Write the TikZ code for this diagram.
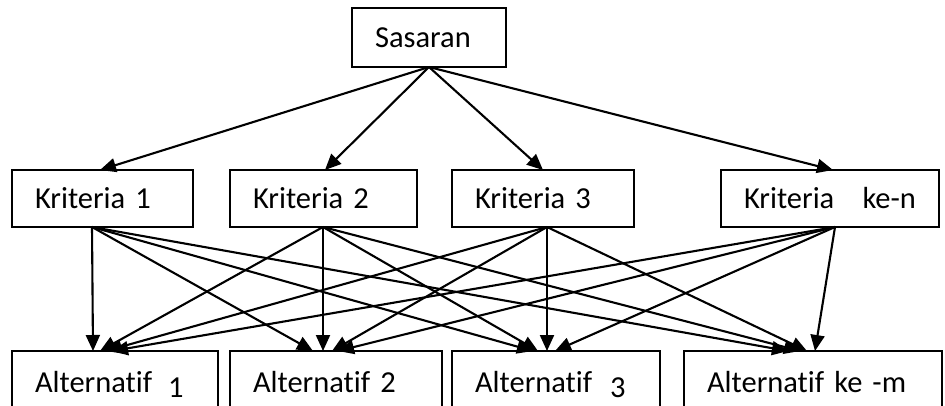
\documentclass[tikz,border=0pt]{standalone}
\usepackage{fontspec}
\setmainfont{Carlito}[Ligatures=CommonOff]
\usetikzlibrary{arrows.meta}
\begin{document}
\begin{tikzpicture}[x=1pt,y=-1pt,
  box/.style={draw, line width=2.2pt, inner xsep=23pt, inner ysep=0pt, outer sep=0pt,
    align=left, anchor=north west, font=\fontsize{30.5}{36}\selectfont},
  link/.style={line width=2.1pt, -{Triangle[length=16pt,width=14pt]}}]
\useasboundingbox (0,0) rectangle (945,405);
\clip (0,0) rectangle (945,405);
\fill[white] (0,0) rectangle (945,405);
% boxes
\node[box, text width=108pt, minimum height=59pt] (sas) at (352,8) {Sasaran};
\node[box, text width=135pt, minimum height=57pt] (k1) at (12,170) {Kriteria 1};
\node[box, text width=141pt, minimum height=57pt] (k2) at (230,170) {Kriteria 2};
\node[box, text width=136pt, minimum height=57pt] (k3) at (452,170) {Kriteria 3};
\node[box, text width=172pt, minimum height=57pt] (kn) at (721,170) {Kriteria\hspace{18pt} ke-n};
\node[box, text width=160pt, minimum height=63pt] (a1) at (12,351) {Alternatif\hspace{16pt}\raisebox{-5pt}[0pt][0pt]{1}};
\node[box, text width=166pt, minimum height=63pt] (a2) at (230,351) {Alternatif 2};
\node[box, text width=162pt, minimum height=63pt] (a3) at (452,351) {Alternatif\hspace{18pt}\raisebox{-5pt}[0pt][0pt]{3}};
\node[box, text width=212pt, minimum height=63pt] (am) at (684,351) {Alternatif ke\hspace{10pt}-m};
% goal to criteria
\draw[link] (sas.south) -- ([xshift=88pt]k1.north west);
\draw[link] (sas.south) -- ([xshift=95pt]k2.north west);
\draw[link] (sas.south) -- ([xshift=91pt]k3.north west);
\draw[link] (sas.south) -- ([xshift=112pt]kn.north west);
% criteria sources
\coordinate (s1) at ([xshift=80pt]k1.south west);
\coordinate (s2) at ([xshift=93pt]k2.south west);
\coordinate (s3) at ([xshift=95pt]k3.south west);
\coordinate (sn) at ([xshift=114pt]kn.south west);
% criteria to alternatives
\draw[link] (s1) -- ([xshift=81pt]a1.north west);
\draw[link] (s2) -- ([xshift=88pt]a1.north west);
\draw[link] (s3) -- ([xshift=94pt]a1.north west);
\draw[link] (sn) -- ([xshift=100pt]a1.north west);
\draw[link] (s1) -- ([xshift=83pt]a2.north west);
\draw[link] (s2) -- ([xshift=93pt]a2.north west);
\draw[link] (s3) -- ([xshift=102pt]a2.north west);
\draw[link] (sn) -- ([xshift=108pt]a2.north west);
\draw[link] (s1) -- ([xshift=81pt]a3.north west);
\draw[link] (s2) -- ([xshift=86pt]a3.north west);
\draw[link] (s3) -- ([xshift=95pt]a3.north west);
\draw[link] (sn) -- ([xshift=103pt]a3.north west);
\draw[link] (s1) -- ([xshift=104pt]am.north west);
\draw[link] (s2) -- ([xshift=116pt]am.north west);
\draw[link] (s3) -- ([xshift=123pt]am.north west);
\draw[link] (sn) -- ([xshift=131pt]am.north west);
\end{tikzpicture}
\end{document}
